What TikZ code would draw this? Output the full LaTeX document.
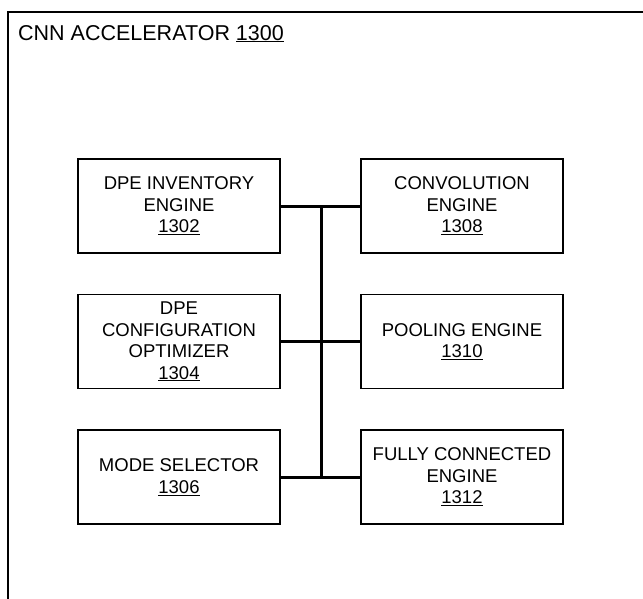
\documentclass[tikz,border=0pt]{standalone}
\usepackage{fontspec}
\setmainfont{Liberation Sans}
\newcommand{\ul}[1]{\underline{#1}}
\begin{document}
\begin{tikzpicture}[x=1pt,y=-1pt,
  blk/.style={draw=black,line width=1.8pt,minimum width=202pt,minimum height=94pt,
    align=center,font=\fontsize{18.5}{21.5}\selectfont,inner sep=0pt},
  bus/.style={line width=3pt}]
\useasboundingbox (0,0) rectangle (643,598);
\begin{scope}
\clip (0,0) rectangle (643,598);
\draw[line width=1.5pt] (8,620) -- (8,12) -- (660,12);
\end{scope}
\node[anchor=base west,font=\fontsize{21.5}{24}\selectfont,inner sep=0pt] (title) at (18,40) {CNN ACCELERATOR \ul{1300}};
\node[blk] (a) at (179,206) {DPE INVENTORY\\ENGINE\\\ul{1302}};
\node[blk] (b) at (179,341.5) {DPE\\CONFIGURATION\\OPTIMIZER\\\ul{1304}};
\node[blk] (c) at (179,477) {MODE SELECTOR\\\ul{1306}};
\node[blk] (d) at (462,206) {CONVOLUTION\\ENGINE\\\ul{1308}};
\node[blk] (e) at (462,341.5) {POOLING ENGINE\\\ul{1310}};
\node[blk] (f) at (462,477) {FULLY CONNECTED\\ENGINE\\\ul{1312}};
\coordinate (top) at (321,206);
\coordinate (bot) at (321,477);
\draw[bus] (a.east) -- (d.west);
\draw[bus] (b.east) -- (e.west);
\draw[bus] (c.east) -- (f.west);
\draw[bus] (top) -- (bot);
\end{tikzpicture}
\end{document}
